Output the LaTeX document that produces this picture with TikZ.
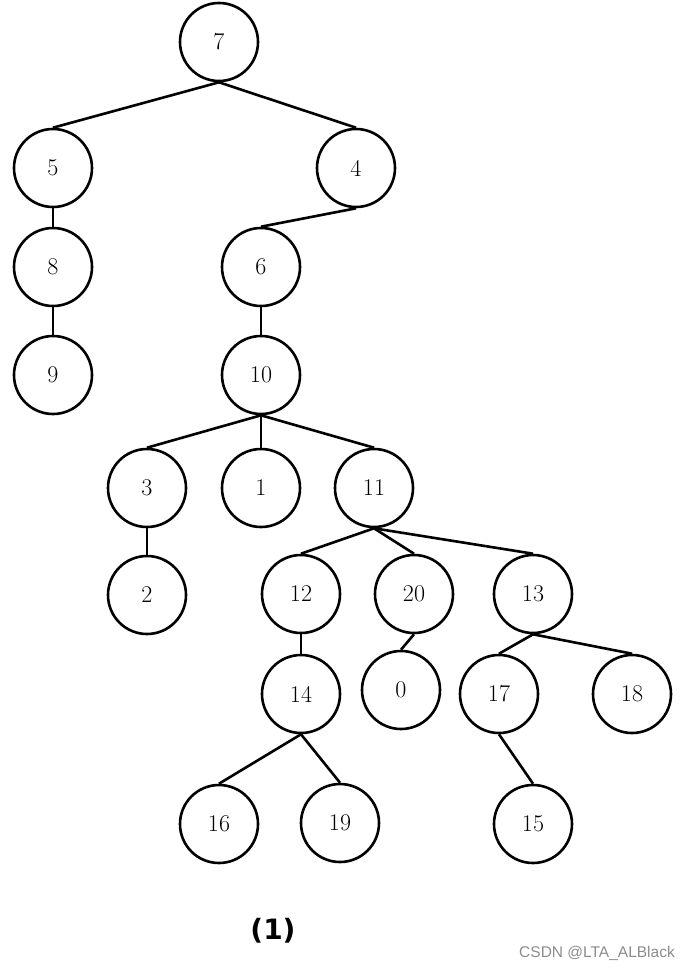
\documentclass[tikz,border=0pt]{standalone}
\usepackage{fontspec}
\newfontfamily\capfont{DejaVu Sans}
\newfontfamily\markfont{Liberation Sans}
\usetikzlibrary{positioning}

\begin{document}
\begin{tikzpicture}[x=1pt,y=-1pt,
  vertex/.style={draw,circle,line width=2.6pt,minimum size=78pt,inner sep=0pt,font=\fontsize{24}{28}\selectfont},
  edge/.style={line width=2.6pt}]
%
\useasboundingbox (0,0) rectangle (693,971);
%
\node[vertex] (n7) at (219,42) {7};
\node[vertex] (n5) at (53,168) {5};
\node[vertex] (n4) at (356,168) {4};
\node[vertex] (n8) at (53,267) {8};
\node[vertex] (n6) at (261,267) {6};
\node[vertex] (n9) at (53,375) {9};
\node[vertex] (n10) at (261,375) {10};
\node[vertex] (n3) at (147,488) {3};
\node[vertex] (n1) at (261,488) {1};
\node[vertex] (n11) at (374,488) {11};
\node[vertex] (n2) at (147,595) {2};
\node[vertex] (n12) at (301,594) {12};
\node[vertex] (n20) at (414,594) {20};
\node[vertex] (n13) at (533,594) {13};
\node[vertex] (n14) at (301,694) {14};
\node[vertex] (n0) at (401,690) {0};
\node[vertex] (n17) at (499,694) {17};
\node[vertex] (n18) at (632,694) {18};
\node[vertex] (n16) at (219,824) {16};
\node[vertex] (n19) at (340,823) {19};
\node[vertex] (n15) at (533,824) {15};
%
\draw[edge] (n7.south) -- (n5.north);
\draw[edge] (n7.south) -- (n4.north);
\draw[edge] (n5.south) -- (n8.north);
\draw[edge] (n8.south) -- (n9.north);
\draw[edge] (n4.south) -- (n6.north);
\draw[edge] (n6.south) -- (n10.north);
\draw[edge] (n10.south) -- (n3.north);
\draw[edge] (n10.south) -- (n1.north);
\draw[edge] (n10.south) -- (n11.north);
\draw[edge] (n3.south) -- (n2.north);
\draw[edge] (n11.south) -- (n12.north);
\draw[edge] (n11.south) -- (n20.north);
\draw[edge] (n11.south) -- (n13.north);
\draw[edge] (n12.south) -- (n14.north);
\draw[edge] (n20.south) -- (n0.north);
\draw[edge] (n13.south) -- (n17.north);
\draw[edge] (n13.south) -- (n18.north);
\draw[edge] (n14.south) -- (n16.north);
\draw[edge] (n14.south) -- (n19.north);
\draw[edge] (n17.south) -- (n15.north);
%
\node[font=\capfont\bfseries\fontsize{28}{32}\selectfont] (cap) at (273,931) {(1)};
\node[font=\markfont\fontsize{15.5}{18}\selectfont,text=black!45] (mark) at (597,953) {CSDN @LTA\_ALBlack};
\end{tikzpicture}
\end{document}
